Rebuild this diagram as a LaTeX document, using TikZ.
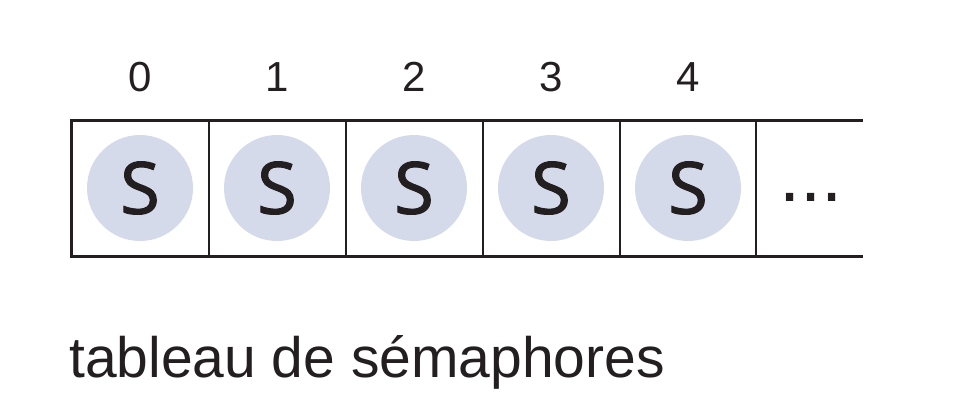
\documentclass[tikz,border=0pt]{standalone}
\usepackage{fontspec}
\setmainfont{Liberation Sans}
\newfontfamily\sfont[FakeBold=1.6]{Open Sans}
\definecolor{ink}{HTML}{231F20}
\definecolor{semfill}{HTML}{D5DAEB}
\begin{document}
\begin{tikzpicture}[x=1pt,y=-1pt,
  sem/.style={circle,fill=semfill,minimum size=106pt,inner sep=0pt,text=ink,
    font=\sfont\fontsize{72}{72}\selectfont},
  idx/.style={anchor=base,text=ink,inner sep=0pt,font=\fontsize{42}{42}\selectfont},
  outer/.style={draw=ink,line width=3pt},
  divider/.style={draw=ink,line width=2pt}]
\useasboundingbox (0,0) rectangle (957,401);
% frame
\coordinate (tl) at (70,120);
\coordinate (tr) at (863,120);
\coordinate (bl) at (70,256);
\coordinate (br) at (863,256);
\draw[outer] (tr) -- (tl);
\draw[outer] (br) -- (bl);
\draw[outer,line cap=rect] (71.5,120) -- (71.5,256);
\foreach \x in {208.5,345.5,482.5,619.5,756}{
  \draw[divider] (\x,121) -- (\x,255);
}
% semaphores
\foreach \i/\x in {0/140,1/277,2/414,3/551,4/688}{
  \node[sem] (c\i) at (\x,188) {S};
  \node[idx] (n\i) at (\x,92) {\i};
}
\node[anchor=base,text=ink,inner sep=0pt,font=\fontsize{76}{76}\selectfont] (dots) at (811,201) {...};
\node[anchor=base west,text=ink,inner sep=0pt,font=\fontsize{57}{57}\selectfont] (lbl) at (69,377) {tableau de sémaphores};
\end{tikzpicture}
\end{document}
